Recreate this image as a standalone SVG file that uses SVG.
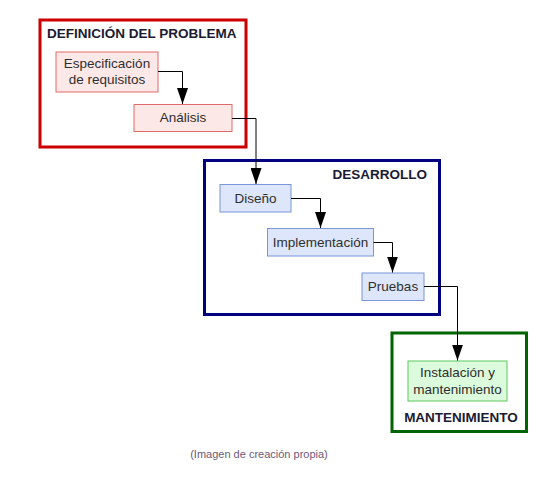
<svg xmlns="http://www.w3.org/2000/svg" width="549" height="480" viewBox="0 0 549 480">
<style>
text{font-family:"Liberation Sans",Arial,sans-serif;}
.t{font-size:13.5px;fill:#2e2e2e;text-anchor:middle;}
.h{font-size:13.5px;font-weight:bold;fill:#1a1a33;}
.red{fill:#fde8e8;stroke:#e06a6a;stroke-width:1;}
.blue{fill:#dde6fb;stroke:#7896d8;stroke-width:1;}
.green{fill:#dcfbdc;stroke:#5cc85c;stroke-width:1;}
.c{fill:none;stroke:#000;stroke-width:1;marker-end:url(#ah);}
</style>
<defs>
<marker id="ah" markerWidth="16" markerHeight="11" refX="16" refY="5.5" orient="auto" markerUnits="userSpaceOnUse" viewBox="0 0 16 11">
<path d="M0,0 L16,5.5 L0,11 Z" fill="#000"/>
</marker>
</defs>
<rect width="549" height="480" fill="#fff"/>
<g id="frame-definicion">
<rect x="40" y="20" width="206" height="127" fill="none" stroke="#cc0000" stroke-width="3"/>
<text class="h" x="47" y="38">DEFINICIÓN DEL PROBLEMA</text>
</g>
<g id="frame-desarrollo">
<rect x="204.5" y="160.5" width="235" height="154" fill="none" stroke="#000080" stroke-width="3"/>
<text class="h" x="427" y="179" text-anchor="end">DESARROLLO</text>
</g>
<g id="frame-mantenimiento">
<rect x="392" y="333" width="134.5" height="98.5" fill="none" stroke="#006400" stroke-width="3"/>
<text class="h" x="461" y="422" text-anchor="middle">MANTENIMIENTO</text>
</g>
<g id="especificacion">
<rect class="red" x="56" y="52" width="102" height="40"/>
<text class="t" x="107" y="68">Especificación</text>
<text class="t" x="107" y="84">de requisitos</text>
</g>
<g id="analisis">
<rect class="red" x="134" y="104.5" width="98" height="27"/>
<text class="t" x="183" y="122">Análisis</text>
</g>
<g id="diseno">
<rect class="blue" x="220" y="184.5" width="71" height="27.5"/>
<text class="t" x="255.5" y="203">Diseño</text>
</g>
<g id="implementacion">
<rect class="blue" x="267.5" y="228.5" width="106" height="27.5"/>
<text class="t" x="320.5" y="247">Implementación</text>
</g>
<g id="pruebas">
<rect class="blue" x="362" y="273" width="62" height="27.5"/>
<text class="t" x="393" y="291">Pruebas</text>
</g>
<g id="instalacion">
<rect class="green" x="408" y="361" width="99" height="40"/>
<text class="t" x="457.5" y="377">Instalación y</text>
<text class="t" x="457.5" y="394">mantenimiento</text>
</g>
<g id="connectors">
<path class="c" d="M158,71.5 H182.5 V104"/>
<path class="c" d="M232,118.5 H256 V184"/>
<path class="c" d="M291,198.5 H320.5 V228"/>
<path class="c" d="M373.5,242.5 H392.5 V272.5"/>
<path class="c" d="M424,286.5 H457.5 V360.5"/>
</g>
<text x="259" y="458" font-size="11" fill="#6a5a7a" text-anchor="middle">(Imagen de creación propia)</text>
</svg>
